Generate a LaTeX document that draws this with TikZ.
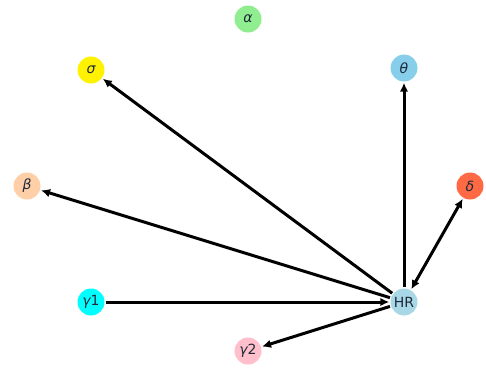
\documentclass[tikz,border=0pt]{standalone}
\usepackage{fontspec}
\setmainfont{DejaVu Sans}
\usetikzlibrary{arrows.meta}

\definecolor{lgreen}{HTML}{90EE90}
\definecolor{skyb}{HTML}{87CEEB}
\definecolor{peach}{HTML}{FFCFA8}
\definecolor{tomato}{HTML}{FF6A45}
\definecolor{lblue}{HTML}{A8D8E6}
\definecolor{lpink}{HTML}{FFBFCB}
\definecolor{aqua}{HTML}{00FFFF}
\definecolor{ink}{HTML}{1E2A3A}

\tikzset{
  gnode/.style={circle, minimum size=27pt, inner sep=0pt, font=\fontsize{14}{16}\selectfont, text=ink},
  garr/.style={-{Latex[length=9pt, width=8.5pt]}, line width=3pt, shorten >=1pt, shorten <=1pt},
  gdarr/.style={{Latex[length=9pt, width=8.5pt]}-{Latex[length=9pt, width=8.5pt]}, line width=3pt, shorten >=1pt, shorten <=1pt}
}

\begin{document}
\begin{tikzpicture}[x=1pt,y=-1pt]
        \useasboundingbox (0,0) rectangle (486,372);

        \node[gnode, fill=lgreen] (alpha) at (248,19) {\itshape α};
        \node[gnode, fill=yellow] (sigma) at (91,70) {\itshape σ};
        \node[gnode, fill=skyb] (theta) at (404,68) {\itshape θ};
        \node[gnode, fill=peach] (beta) at (27,186) {\itshape β};
        \node[gnode, fill=tomato] (delta) at (470,186) {\itshape δ};
        \node[gnode, fill=aqua] (gamma1) at (91,302) {{\itshape γ}1};
        \node[gnode, fill=lblue] (hr) at (404,302) {HR};
        \node[gnode, fill=lpink] (gamma2) at (248,351) {{\itshape γ}2};

        \draw[garr] (hr) -- (sigma);
        \draw[garr] (hr) -- (theta);
        \draw[garr] (hr) -- (beta);
        \draw[garr] (hr) -- (gamma2);
        \draw[garr] (gamma1) -- (hr);
        \draw[gdarr] (hr) -- (delta);
    \end{tikzpicture}
\end{document}
